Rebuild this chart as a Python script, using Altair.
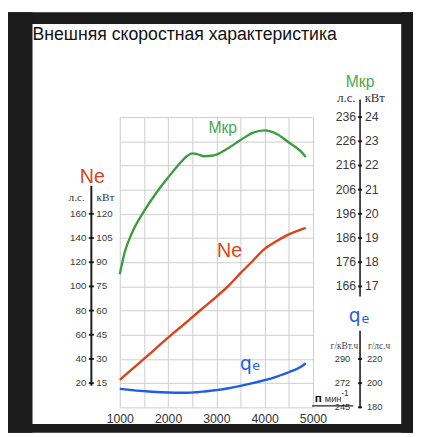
import altair as alt
import pandas as pd

# ---- data ----
rpm = [1000, 1100, 1250, 1500, 1750, 2000, 2250, 2400, 2500, 2600, 2750, 2900, 3000,
       3250, 3500, 3750, 4000, 4250, 4500, 4750, 4850]
ne_hp = [22.7, 26.2, 31.4, 40.0, 48.8, 57.6, 66.0, 71.0, 74.5, 78.0, 83.0, 88.0, 91.5,
         100.5, 111.0, 121.0, 131.0, 137.5, 143.0, 147.0, 148.3]
mkr = [17.5, 18.4, 19.2, 20.1, 20.85, 21.5, 22.1, 22.4, 22.5, 22.47, 22.38, 22.4, 22.45,
       22.72, 23.05, 23.35, 23.45, 23.3, 22.95, 22.58, 22.35]
qe = [195.3, 194.8, 194.2, 193.4, 192.7, 192.3, 192.1, 192.1, 192.3, 192.5, 193.1, 193.8, 194.3,
      195.8, 197.8, 200.0, 202.5, 205.5, 209.0, 213.5, 216.5]

x_ticks = [1000, 1500, 2000, 2500, 3000, 3500, 4000, 4500, 5000]
grid_hp = [0, 20, 40, 60, 80, 100, 120, 140, 160, 180, 200, 220, 240]

ne_tick_hp = [20, 40, 60, 80, 100, 120, 140, 160]
ne_tick_kw = ["15", "30", "45", "60", "75", "90", "105", "120"]
m_tick = [24, 23, 22, 21, 20, 19, 18, 17]
m_tick_nm = ["236", "226", "216", "206", "196", "186", "176", "166"]
q_tick = [220, 200, 180]
q_tick_kwh = ["290", "272", "245"]

title_text = "Внешняя скоростная характеристика"

# ---- styling ----
W, H = 197, 296
FONT = "Liberation Sans"
SERIF = "Liberation Serif"
WIDE = "DejaVu Sans"
RED = "#d8431b"
GREEN = "#3d9c40"
GREEN_T = "#4aa84e"
BLUE = "#1f5de6"
GRID = "#cdcdcd"
DARK = "#1b1b1b"
AX = "#1a1a1a"
LAB = "#3a3a3a"

df = pd.DataFrame({"rpm": rpm, "hp": ne_hp, "m": mkr, "q": qe})
one = pd.DataFrame({"k": [0]})

x_enc = alt.X(
    "rpm:Q",
    scale=alt.Scale(domain=[1000, 5000], nice=False, zero=False),
    axis=alt.Axis(values=x_ticks, grid=True, ticks=False, domain=False, title=None,
                  format="d", labelExpr="datum.value % 1000 === 0 ? datum.label : ''",
                  labelFlush=False, labelPadding=5, labelFontSize=12.5, labelColor="#333",
                  labelFont=FONT, gridColor=GRID, gridWidth=1),
)

y_ne = alt.Y("hp:Q", scale=alt.Scale(domain=[0, 240], nice=False, zero=False),
             axis=alt.Axis(values=grid_hp, grid=True, labels=False, ticks=False,
                           domain=False, title=None, gridColor=GRID, gridWidth=1))
y_m = alt.Y("m:Q", scale=alt.Scale(domain=[12, 24], nice=False, zero=False), axis=None)
y_q = alt.Y("q:Q", scale=alt.Scale(domain=[180, 420], nice=False, zero=False), axis=None)


def txt(text, x, y, size, color="#111", font=FONT, align="center", weight="normal"):
    return alt.Chart(one).mark_text(text=text, align=align, baseline="alphabetic",
                                    fontSize=size, font=font, color=color,
                                    fontWeight=weight).encode(x=alt.value(x), y=alt.value(y))


def rect(x1, x2, y1, y2, color):
    return alt.Chart(one).mark_rect(color=color).encode(
        x=alt.value(x1), x2=alt.value(x2), y=alt.value(y1), y2=alt.value(y2))


def vrule(x, y1, y2, w=2):
    return alt.Chart(one).mark_rule(color=AX, strokeWidth=w).encode(
        x=alt.value(x), y=alt.value(y1), y2=alt.value(y2))


# ---- Ne group ----
ne_ax = pd.DataFrame({"hp": ne_tick_hp, "kw": ne_tick_kw})
ne_group = alt.layer(
    alt.Chart(df).mark_line(color=RED, strokeWidth=2.4, interpolate="monotone").encode(x=x_enc, y=y_ne),
    alt.Chart(ne_ax).mark_text(align="right", baseline="middle", fontSize=10, font=FONT, color=LAB)
    .encode(x=alt.value(-34), y=y_ne, text="hp:Q"),
    alt.Chart(ne_ax).mark_text(align="left", baseline="middle", fontSize=10, font=FONT, color=LAB)
    .encode(x=alt.value(-24), y=y_ne, text="kw:N"),
    alt.Chart(ne_ax).mark_rule(color=AX, strokeWidth=2)
    .encode(x=alt.value(-31.5), x2=alt.value(-26.5), y=y_ne),
)

# ---- Mkr group ----
m_ax = pd.DataFrame({"m": m_tick, "nm": m_tick_nm})
m_group = alt.layer(
    alt.Chart(df).mark_line(color=GREEN, strokeWidth=2.4, interpolate="monotone").encode(x=x_enc, y=y_m),
    alt.Chart(m_ax).mark_text(align="right", baseline="middle", fontSize=12.5, font=FONT, color=LAB)
    .encode(x=alt.value(241), y=y_m, text="nm:N"),
    alt.Chart(m_ax).mark_text(align="left", baseline="middle", fontSize=12.5, font=FONT, color=LAB)
    .encode(x=alt.value(250), y=y_m, text="m:Q"),
    alt.Chart(m_ax).mark_rule(color=AX, strokeWidth=2)
    .encode(x=alt.value(243), x2=alt.value(247), y=y_m),
)

# ---- qe group ----
q_ax = pd.DataFrame({"q": q_tick, "kwh": q_tick_kwh})
q_group = alt.layer(
    alt.Chart(df).mark_line(color=BLUE, strokeWidth=2.4, interpolate="monotone").encode(x=x_enc, y=y_q),
    alt.Chart(q_ax).mark_text(align="right", baseline="middle", fontSize=9.5, font=FONT, color=LAB)
    .encode(x=alt.value(235), y=y_q, text="kwh:N"),
    alt.Chart(q_ax).mark_text(align="left", baseline="middle", fontSize=9.5, font=FONT, color=LAB)
    .encode(x=alt.value(252), y=y_q, text="q:Q"),
    alt.Chart(q_ax).mark_rule(color=AX, strokeWidth=2)
    .encode(x=alt.value(243), x2=alt.value(247), y=y_q),
)

# ---- decorations ----
decor = [
    rect(-114, 299, -107, -95, DARK),
    rect(-114, -89, -107, 322, DARK),
    rect(287, 299, -107, 322, DARK),
    rect(-114, 299, 313, 322, DARK),
    txt(title_text, -89, -79, 18, "#111", align="left"),
    # Ne axis
    vrule(-29, 70, 274, 2),
    txt("Ne", -28, 67, 20, RED),
    txt("л.с.", -44, 85.5, 11.5, "#333", font=SERIF),
    txt("кВт", -14.5, 85.5, 11.5, "#333", font=SERIF),
    # Mkr axis
    vrule(245, -18, 183, 1.6),
    txt("Мкр", 245, -31, 16, GREEN_T),
    txt("л.с.", 231, -15.5, 13, "#333", font=SERIF),
    txt("кВт", 260, -15.5, 13, "#333", font=SERIF),
    # qe axis
    vrule(245, 218, 296, 1.6),
    txt("q", 239.5, 208.5, 19, BLUE, font=WIDE),
    txt("e", 250.5, 209.5, 13, BLUE, font=WIDE),
    txt("г/кВт.ч", 243, 237, 9.5, "#444", font=SERIF, align="right"),
    txt("г/лс.ч", 253, 237, 9.5, "#444", font=SERIF, align="left"),
    # in-plot labels
    txt("Мкр", 105, 16.7, 16, GREEN_T),
    txt("Ne", 112, 143, 20, RED),
    txt("q", 128.5, 258, 19, BLUE, font=WIDE),
    txt("e", 139, 258, 13, BLUE, font=WIDE),
    # rpm unit
    txt("п", 202.5, 290.5, 12, "#111", weight="bold"),
    txt("мин", 209, 290.5, 9.5, "#333", align="left"),
    txt("-1", 229.5, 284.5, 8.5, "#333"),
    alt.Chart(one).mark_rule(color="#222", strokeWidth=1.3).encode(
        x=alt.value(196), x2=alt.value(238), y=alt.value(294.5)),
]

chart = alt.layer(ne_group, m_group, q_group, *decor).resolve_scale(y="independent").properties(
    width=W, height=H,
    autosize=alt.AutoSizeParams(type="none"),
    padding={"left": 114, "top": 107, "right": 102, "bottom": 26},
    background="white",
).configure_view(stroke=None)

chart.save("out.html", embed_options={"renderer": "svg", "actions": False})
